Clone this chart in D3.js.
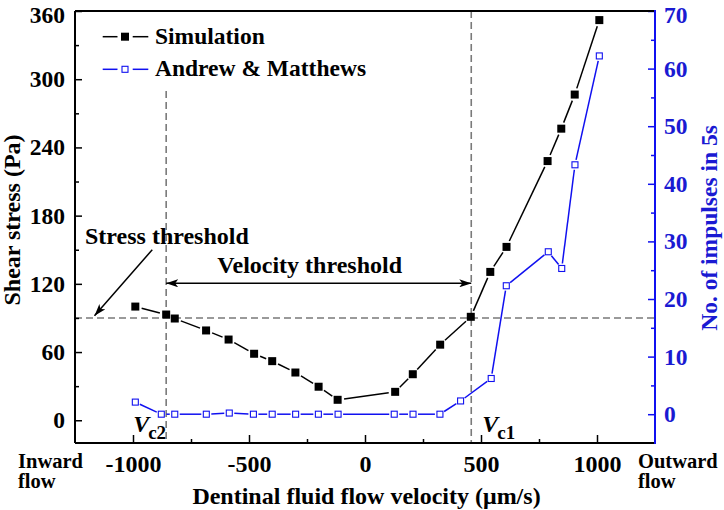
<!DOCTYPE html>
<html><head><meta charset="utf-8">
<script src="https://cdn.jsdelivr.net/npm/d3@7/dist/d3.min.js"></script>
<style>
body{margin:0;background:#fff;}
text{font-family:"Liberation Serif","Times New Roman",serif;font-weight:bold;}
</style></head>
<body><svg id="c" width="724" height="510"></svg>
<script>
// ---- data ----
const simX = [-990, -857, -820, -685, -588, -478, -400, -300, -200, -118, 130, 206, 324, 456, 540, 610, 787, 846, 904, 1010];
const simY = [100, 93, 89.5, 79, 71, 58.5, 52, 42, 29.5, 18, 25, 40.5, 66.5, 91, 130.5, 152.5, 228, 256.5, 286.5, 352];
const amX = [-990, -878, -820, -684, -585, -481, -400, -299, -201, -116, 126, 207, 323, 412, 544, 609, 790, 848, 905, 1010];
const amY = [2.1, 0, 0, 0, 0.2, 0, 0, 0, 0, 0, 0, 0, 0, 2.3, 6.2, 22.3, 28.2, 25.3, 43.3, 62.2];
const xTicks = [-1000, -500, 0, 500, 1000];
const xMinor = [-750, -250, 250, 750];
const yLTicks = [0, 60, 120, 180, 240, 300, 360];
const yLMinor = [30, 90, 150, 210, 270, 330];
const yRTicks = [0, 10, 20, 30, 40, 50, 60, 70];
const yRMinor = [5, 15, 25, 35, 45, 55, 65];
const stressThreshold = 90;
const vc2 = -857, vc1 = 458;
const seriesNames = ["Simulation", "Andrew & Matthews"];
const xTitle = "Dentinal fluid flow velocity (\u03bcm/s)";
const yLTitle = "Shear stress (Pa)";
const yRTitle = "No. of impulses in 5s";

// ---- layout ----
const L = 75, R = 655, T = 11, B = 443;
const BLUE = "#1010f0", BLUET = "#1a1ad2";
const svg = d3.select("#c");
const x = d3.scaleLinear().domain([-1250, 1250]).range([L, R]);
const yL = d3.scaleLinear().domain([-20, 360]).range([B, T]);
const yR = d3.scaleLinear().domain([-5, 70]).range([B, T]);
const fmt = d => String(d);

const defs = svg.append("defs");
defs.append("marker").attr("id", "ah").attr("viewBox", "0 0 12 8").attr("refX", 12).attr("refY", 4)
  .attr("markerWidth", 12).attr("markerHeight", 8).attr("markerUnits", "userSpaceOnUse").attr("orient", "auto-start-reverse")
  .append("path").attr("d", "M0,0 L12,4 L0,8 L3,4 Z").attr("fill", "#000");

// dashed reference lines
const dash = svg.append("g").attr("stroke", "#7a7a7a").attr("stroke-width", 1.6).attr("stroke-dasharray", "7,4").attr("fill", "none");
dash.append("line").attr("x1", L).attr("x2", R).attr("y1", yL(stressThreshold)).attr("y2", yL(stressThreshold));
dash.append("line").attr("x1", x(vc2)).attr("x2", x(vc2)).attr("y1", 91).attr("y2", B);
dash.append("line").attr("x1", x(vc1)).attr("x2", x(vc1)).attr("y1", T).attr("y2", B);

// axes
function styleAxis(g, color, tcolor, fs) {
  g.attr("font-family", null).attr("font-size", null);
  g.select(".domain").remove();
  g.selectAll("line").attr("stroke", color).attr("stroke-width", 1.5);
  g.selectAll("text").attr("fill", tcolor).style("font-size", fs + "px");
}
svg.append("g").attr("transform", `translate(0,${B})`)
  .call(d3.axisBottom(x).tickValues(xTicks).tickFormat(fmt).tickSizeInner(-8).tickSizeOuter(0).tickPadding(12))
  .call(g => styleAxis(g, "#000", "#000", 24));
svg.append("g").attr("transform", `translate(0,${B})`)
  .call(d3.axisBottom(x).tickValues(xMinor).tickFormat("").tickSizeInner(-4).tickSizeOuter(0))
  .call(g => styleAxis(g, "#000", "#000", 24));
svg.append("g").attr("transform", `translate(${L},0)`)
  .call(d3.axisLeft(yL).tickValues(yLTicks).tickFormat(fmt).tickSizeInner(-7).tickSizeOuter(0).tickPadding(10))
  .call(g => styleAxis(g, "#000", "#000", 23.5))
  .call(g => g.selectAll("text").filter(d => d === 360).attr("dy", "0.5em"));
svg.append("g").attr("transform", `translate(${L},0)`)
  .call(d3.axisLeft(yL).tickValues(yLMinor).tickFormat("").tickSizeInner(-4).tickSizeOuter(0))
  .call(g => styleAxis(g, "#000", "#000", 23.5));
svg.append("g").attr("transform", `translate(${R},0)`)
  .call(d3.axisRight(yR).tickValues(yRTicks).tickFormat(fmt).tickSizeInner(-7).tickSizeOuter(0).tickPadding(9))
  .call(g => styleAxis(g, BLUE, BLUET, 23.5))
  .call(g => g.selectAll("text").filter(d => d === 70).attr("dy", "0.5em"));
svg.append("g").attr("transform", `translate(${R},0)`)
  .call(d3.axisRight(yR).tickValues(yRMinor).tickFormat("").tickSizeInner(-4).tickSizeOuter(0))
  .call(g => styleAxis(g, BLUE, BLUET, 23.5));

// frame
svg.append("line").attr("x1", L).attr("x2", R).attr("y1", T).attr("y2", T).attr("stroke", "#000").attr("stroke-width", 2);
svg.append("line").attr("x1", L).attr("x2", L).attr("y1", T).attr("y2", B).attr("stroke", "#000").attr("stroke-width", 2);
svg.append("line").attr("x1", L).attr("x2", R).attr("y1", B).attr("y2", B).attr("stroke", "#000").attr("stroke-width", 2);
svg.append("line").attr("x1", R).attr("x2", R).attr("y1", T - 1).attr("y2", B + 1).attr("stroke", BLUE).attr("stroke-width", 2);

// series lines with gaps at symbols
function gapLine(pts, gap, color, w) {
  const g = svg.append("g").attr("stroke", color).attr("stroke-width", w);
  for (let i = 0; i < pts.length - 1; i++) {
    const [x0, y0] = pts[i], [x1, y1] = pts[i + 1];
    const dx = x1 - x0, dy = y1 - y0, d = Math.hypot(dx, dy);
    if (d <= 2 * gap) continue;
    const ux = dx / d, uy = dy / d;
    g.append("line").attr("x1", x0 + ux * gap).attr("y1", y0 + uy * gap).attr("x2", x1 - ux * gap).attr("y2", y1 - uy * gap);
  }
}
const simPts = simX.map((v, i) => [x(v), yL(simY[i])]);
const amPts = amX.map((v, i) => [x(v), yR(amY[i])]);
gapLine(amPts, 5, BLUE, 1.5);
gapLine(simPts, 6.5, "#000", 1.5);
svg.append("g").selectAll("rect").data(amPts).join("rect")
  .attr("x", d => d[0] - 3).attr("y", d => d[1] - 3).attr("width", 6).attr("height", 6)
  .attr("fill", "#fff").attr("stroke", BLUE).attr("stroke-width", 1.1);
svg.append("g").selectAll("rect").data(simPts).join("rect")
  .attr("x", d => d[0] - 4).attr("y", d => d[1] - 4).attr("width", 8).attr("height", 8).attr("fill", "#000");

// legend
const lg = svg.append("g");
[[36.7, "#000", true], [69.3, BLUE, false]].forEach(([ly, c, filled], i) => {
  lg.append("line").attr("x1", 102.7).attr("x2", 117.5).attr("y1", ly).attr("y2", ly).attr("stroke", c).attr("stroke-width", 1.5);
  lg.append("line").attr("x1", 132.7).attr("x2", 148.3).attr("y1", ly).attr("y2", ly).attr("stroke", c).attr("stroke-width", 1.5);
  if (filled) lg.append("rect").attr("x", 121).attr("y", ly - 4).attr("width", 8).attr("height", 8).attr("fill", "#000");
  else lg.append("rect").attr("x", 122).attr("y", ly - 3).attr("width", 6).attr("height", 6).attr("fill", "#fff").attr("stroke", BLUE).attr("stroke-width", 1.1);
  lg.append("text").attr("x", 155).attr("y", ly + 7).style("font-size", "23.5px").attr("fill", "#000").text(seriesNames[i]);
});

// annotations
svg.append("text").attr("x", 85).attr("y", 244).style("font-size", "24px").text("Stress threshold");
svg.append("line").attr("x1", x(-917)).attr("y1", yL(150)).attr("x2", x(-1166)).attr("y2", yL(92))
  .attr("stroke", "#000").attr("stroke-width", 1.5).attr("marker-end", "url(#ah)");
svg.append("text").attr("x", 309.7).attr("y", 273).attr("text-anchor", "middle").style("font-size", "24px").text("Velocity threshold");
svg.append("line").attr("x1", x(vc2)).attr("x2", x(vc1)).attr("y1", 283.3).attr("y2", 283.3)
  .attr("stroke", "#000").attr("stroke-width", 1.5).attr("marker-start", "url(#ah)").attr("marker-end", "url(#ah)");
function vlabel(px, sub) {
  const t = svg.append("text").attr("x", px).attr("y", 432).style("font-size", "24px");
  t.append("tspan").style("font-style", "italic").text("V");
  t.append("tspan").attr("dy", 6.5).attr("dx", -1).style("font-size", "19px").text(sub);
}
vlabel(x(vc2) - 33, "c2");
vlabel(x(vc1) + 11, "c1");

// flow direction labels
function two(px, l1, l2) {
  svg.append("text").attr("x", px).attr("y", 468.3).style("font-size", "20.5px").text(l1);
  svg.append("text").attr("x", px).attr("y", 488.3).style("font-size", "20.5px").text(l2);
}
two(18, "Inward", "flow");
two(638, "Outward", "flow");

// axis titles
svg.append("text").attr("x", 366.5).attr("y", 503.5).attr("text-anchor", "middle").style("font-size", "24px").text(xTitle);
svg.append("text").attr("transform", "translate(20,220) rotate(-90)").attr("text-anchor", "middle").style("font-size", "24px").text(yLTitle);
svg.append("text").attr("transform", "translate(717,228) rotate(-90)").attr("text-anchor", "middle").style("font-size", "23.5px").attr("fill", BLUET).text(yRTitle);
</script></body></html>
